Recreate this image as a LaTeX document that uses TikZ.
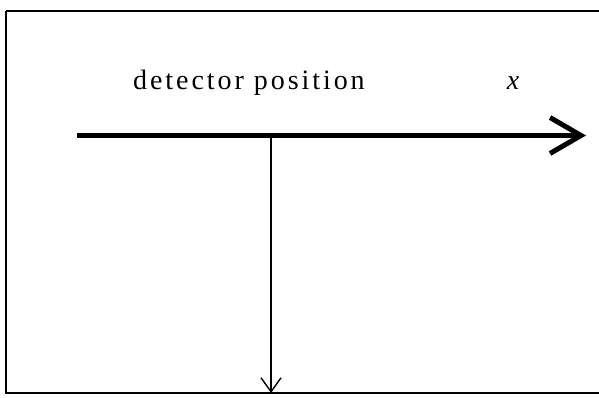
\documentclass[tikz,border=0pt]{standalone}
\usepackage{fontspec}
\setmainfont{Liberation Serif}
\usetikzlibrary{arrows.meta}
\begin{document}
\begin{tikzpicture}[x=1pt,y=-1pt,
  frame/.style={draw=black,line width=1.8pt},
  axis/.style={line width=5pt,-{Straight Barb[length=31pt,width=36pt]}},
  ray/.style={line width=1.4pt,-{Straight Barb[length=14pt,width=20pt]}},
  lbl/.style={inner sep=0pt,font=\fontsize{28}{32}\selectfont}]
\useasboundingbox (0,0) rectangle (599,398);
\draw[frame] (6,11) -- (620,11) (6,11) -- (6,393) -- (620,393);
\coordinate (a) at (77,135.5);
\coordinate (b) at (586,135.5);
\coordinate (c) at (271,137);
\coordinate (d) at (271,393);
\draw[axis] (a) -- (b);
\draw[ray] (c) -- (d);
\node[lbl,anchor=base west] (t) at (133,90) {\addfontfeature{LetterSpace=10.5}detector position};
\node[lbl,anchor=base] (x) at (513,90) {\textit{x}};
\end{tikzpicture}
\end{document}
